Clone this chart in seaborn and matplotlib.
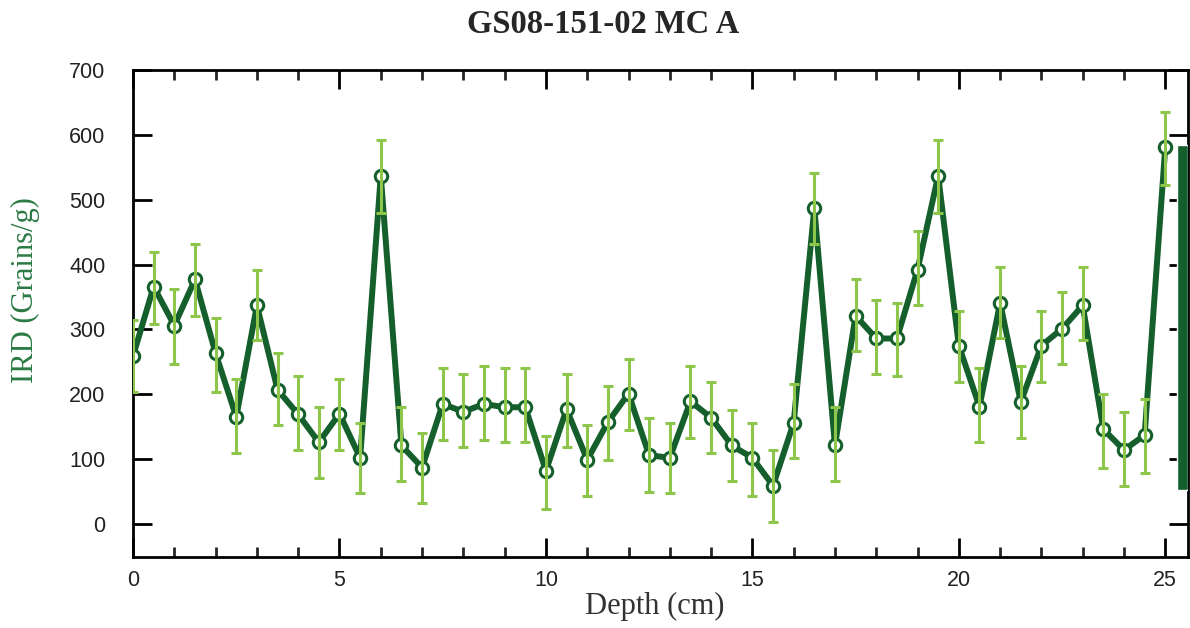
import numpy as np
import pandas as pd
import seaborn as sns
import matplotlib.pyplot as plt
from matplotlib.ticker import MultipleLocator

# depth (cm) and IRD (grains/g) with error bar ends
depth = [0.0, 0.5, 1.0, 1.5, 2.0, 2.5, 3.0, 3.5, 4.0, 4.5,
         5.0, 5.5, 6.0, 6.5, 7.0, 7.5, 8.0, 8.5, 9.0, 9.5,
         10.0, 10.5, 11.0, 11.5, 12.0, 12.5, 13.0, 13.5, 14.0, 14.5,
         15.0, 15.5, 16.0, 16.5, 17.0, 17.5, 18.0, 18.5, 19.0, 19.5,
         20.0, 20.5, 21.0, 21.5, 22.0, 22.5, 23.0, 23.5, 24.0, 24.5,
         25.0]
ird = [259, 366, 306, 377, 263, 165, 337, 207, 169, 126,
       170, 102, 537, 121, 87, 185, 173, 185, 180, 180,
       82, 177, 99, 157, 201, 106, 102, 189, 164, 121,
       102, 59, 156, 487, 121, 321, 286, 286, 392, 537,
       275, 181, 341, 188, 275, 301, 337, 146, 114, 137,
       581]
err_lo = [204, 309, 247, 321, 204, 110, 284, 153, 114, 71,
          114, 48, 480, 66, 32, 130, 118, 130, 126, 126,
          23, 118, 43, 99, 145, 49, 48, 133, 110, 66,
          43, 3, 102, 431, 66, 266, 231, 228, 337, 479,
          219, 126, 287, 133, 219, 247, 283, 87, 59, 79,
          522]
err_hi = [315, 419, 362, 431, 318, 224, 392, 263, 228, 181,
          224, 156, 592, 181, 141, 240, 231, 244, 240, 240,
          136, 231, 153, 212, 255, 164, 156, 244, 219, 176,
          156, 114, 216, 541, 181, 377, 345, 341, 451, 592,
          329, 240, 396, 243, 329, 357, 396, 201, 173, 193,
          635]

# dark bar on the right edge
bar_x = [25.42]
bar_bottom = [52]
bar_top = [584]

df = pd.DataFrame({"depth": depth, "ird": ird, "lo": err_lo, "hi": err_hi})

dark = "#155f2c"
light = "#8dc64a"

sns.set_style("ticks")
plt.rcParams['font.family'] = ['Liberation Sans', 'DejaVu Sans']

fig = plt.figure(figsize=(11.9, 6.28), dpi=100)
ax = fig.add_axes([0.1118, 0.113, 0.8865, 0.7755])

sns.lineplot(data=df, x="depth", y="ird", color=dark, lw=4.3, ax=ax, zorder=2)
ax.scatter(df["depth"], df["ird"], s=80, facecolor="white", edgecolor=dark,
           linewidth=2.2, zorder=3)
ax.errorbar(df["depth"], df["ird"],
            yerr=[df["ird"] - df["lo"], df["hi"] - df["ird"]],
            fmt="none", ecolor=light, elinewidth=2.2, capsize=3.8, capthick=2.2,
            zorder=4)

ax.bar(bar_x, np.array(bar_top) - np.array(bar_bottom), bottom=bar_bottom,
       width=0.28, color=dark, zorder=5)

ax.set_xlim(0, 25.55)
ax.set_ylim(-51, 700)
ax.xaxis.set_major_locator(MultipleLocator(5))
ax.xaxis.set_minor_locator(MultipleLocator(1))
ax.yaxis.set_major_locator(MultipleLocator(100))

for s in ax.spines.values():
    s.set_visible(True)
    s.set_color("black")
    s.set_linewidth(2)

ax.tick_params(axis="both", which="major", direction="in", length=14, width=2,
               top=True, right=True, labelsize=15.5, colors="black",
               labelcolor="#222222", pad=9)
ax.tick_params(axis="y", which="major", pad=20)
ax.tick_params(axis="x", which="minor", direction="in", length=7, width=2,
               top=True)
ax.tick_params(axis="y", which="minor", left=False, right=False)

ax.set_xlabel("Depth (cm)", family="Liberation Serif", fontsize=22,
              color="#333333")
ax.xaxis.set_label_coords(0.495, -0.072)
ax.set_ylabel("IRD (Grains/g)", family="Liberation Serif", fontsize=22,
              color="#2b7a44")
ax.yaxis.set_label_coords(-0.088, 0.548)
fig.suptitle("GS08-151-02 MC A", family="Liberation Serif", fontweight="bold",
             fontsize=23.5, x=0.507, y=0.985)

fig.savefig("out.png", dpi=100)
